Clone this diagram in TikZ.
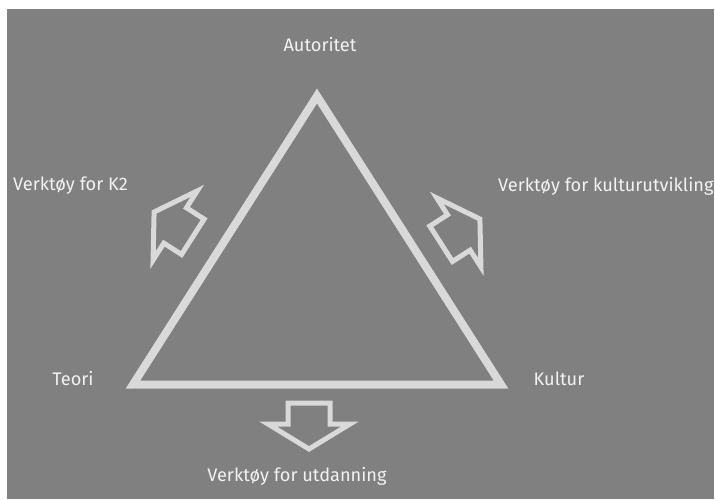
\documentclass[tikz,border=0pt]{standalone}
\usepackage{fontspec}
\setmainfont{Fira Sans}
\usepackage{xcolor}
\definecolor{slidegray}{HTML}{808080}
\definecolor{linegray}{HTML}{D9D9D9}
\definecolor{textwhite}{HTML}{F2F2F2}
\tikzset{
  label text/.style={text=textwhite, font=\fontsize{18.2}{20}\selectfont, inner sep=0pt},
  frame line/.style={draw=linegray, line width=8pt, line join=miter},
  block arrow/.style={draw=linegray, line width=5pt, line join=miter}
}
\newcommand{\blockarrowpath}{(0,26) -- (41,1) -- (21,1) -- (21,-20) -- (-21,-20) -- (-21,1) -- (-41,1) -- cycle}

\begin{document}
\begin{tikzpicture}[x=1pt, y=1pt]
  \useasboundingbox (0,0) rectangle (715,-499);
  % Slide background
  \fill[white] (0,0) rectangle (715,-499);
  \fill[slidegray] (7,-9) rectangle (714,-499);

  % Triangle corners
  \coordinate (teoricorner) at (133,-384.5);
  \coordinate (kulturcorner) at (501,-384.5);
  \coordinate (autoritetcorner) at (317,-96);
  \draw[frame line] (teoricorner) -- (kulturcorner) -- (autoritetcorner) -- cycle;

  % Arrows pointing out of each side
  \begin{scope}[shift={(309,-423)}, rotate=180]
    \draw[block arrow] \blockarrowpath;
  \end{scope}
  \begin{scope}[shift={(176,-226)}, rotate=57.4]
    \draw[block arrow] \blockarrowpath;
  \end{scope}
  \begin{scope}[shift={(458,-233)}, rotate=-57.4]
    \draw[block arrow] \blockarrowpath;
  \end{scope}

  % Corner labels
  \node[label text] (autoritet) at (320,-45) {Autoritet};
  \node[label text] (teori) at (73,-379) {Teori};
  \node[label text] (kultur) at (559,-379) {Kultur};

  % Tool labels
  \node[label text, anchor=west] (k2) at (13,-186) {Verktøy for K2};
  \node[label text, anchor=west] (kulturutvikling) at (498,-186) {Verktøy for kulturutvikling};
  \node[label text] (utdanning) at (297,-476) {Verktøy for utdanning};
\end{tikzpicture}
\end{document}
